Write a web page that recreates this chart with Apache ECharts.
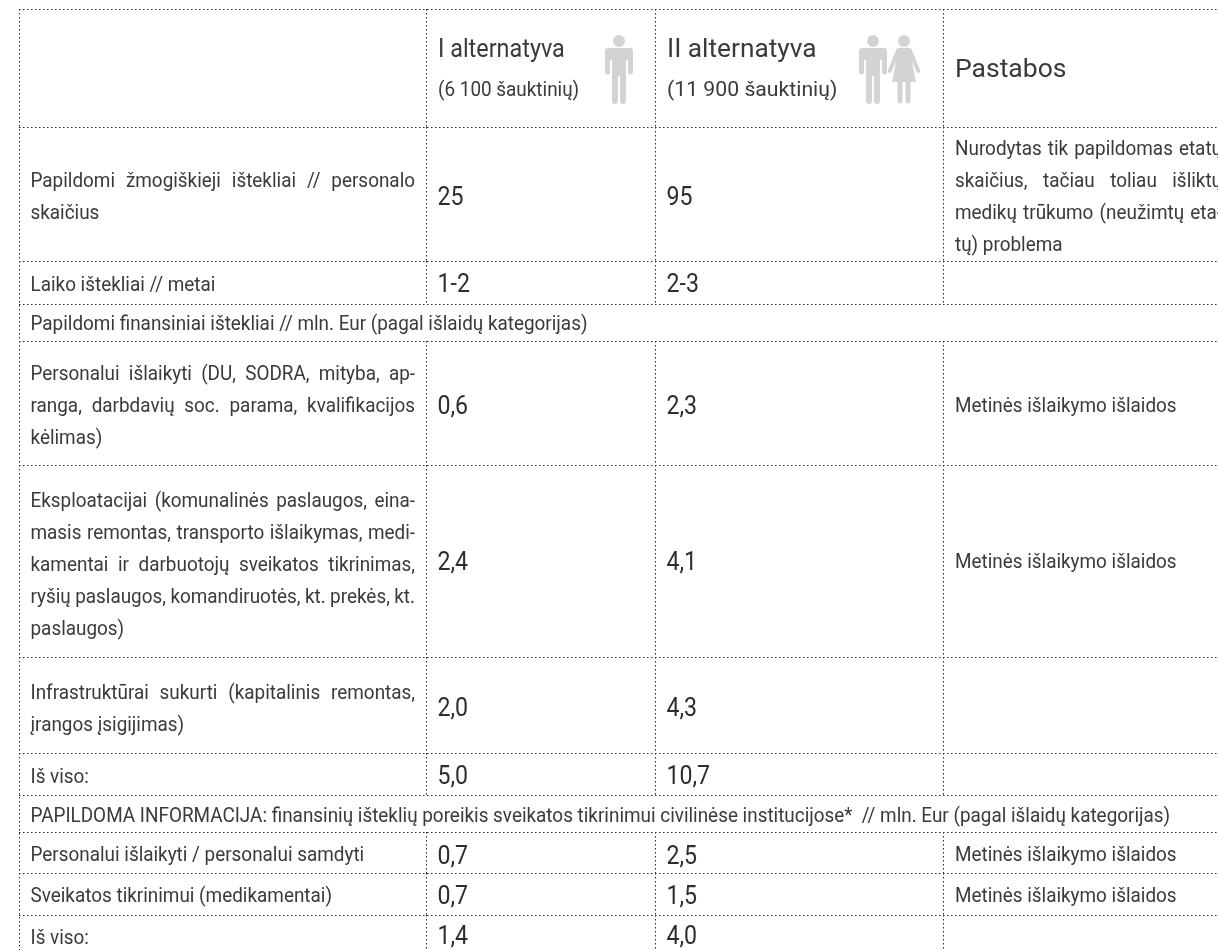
<!DOCTYPE html>
<html>
<head>
    <meta charset="utf-8">
    <title>Alternatyvos</title>
    <script src="https://cdn.jsdelivr.net/npm/echarts@6/dist/echarts.min.js"></script>
    <style>html,body{margin:0;padding:0;background:#fff}</style>
</head>
<body>
    <div id="main" style="width:1218px;height:950px;"></div>
    <script type="text/javascript">
        // table content, rows from top to bottom
        var rowLabels = [
            [],
            ['Papildomi žmogiškieji ištekliai // personalo', 'skaičius'],
            ['Laiko ištekliai // metai'],
            ['Papildomi finansiniai ištekliai // mln. Eur (pagal išlaidų kategorijas)'],
            ['Personalui išlaikyti (DU, SODRA, mityba, ap-', 'ranga, darbdavių soc. parama, kvalifikacijos', 'kėlimas)'],
            ['Eksploatacijai (komunalinės paslaugos, eina-', 'masis remontas, transporto išlaikymas, medi-', 'kamentai ir darbuotojų sveikatos tikrinimas,', 'ryšių paslaugos, komandiruotės, kt. prekės, kt.', 'paslaugos)'],
            ['Infrastruktūrai sukurti (kapitalinis remontas,', 'įrangos įsigijimas)'],
            ['Iš viso:'],
            ['PAPILDOMA INFORMACIJA: finansinių išteklių poreikis sveikatos tikrinimui civilinėse institucijose*  // mln. Eur (pagal išlaidų kategorijas)'],
            ['Personalui išlaikyti / personalui samdyti'],
            ['Sveikatos tikrinimui (medikamentai)'],
            ['Iš viso:']
        ];
        var alternative1 = [null, '25', '1-2', null, '0,6', '2,4', '2,0', '5,0', null, '0,7', '0,7', '1,4'];
        var alternative2 = [null, '95', '2-3', null, '2,3', '4,1', '4,3', '10,7', null, '2,5', '1,5', '4,0'];
        var yearlyNote = 'Metinės išlaikymo išlaidos';
        var notes = [
            [],
            ['Nurodytas tik papildomas etatų', 'skaičius, tačiau toliau išliktų', 'medikų trūkumo (neužimtų eta-', 'tų) problema'],
            [], [],
            [yearlyNote],
            [yearlyNote],
            [], [], [],
            [yearlyNote],
            [yearlyNote],
            []
        ];
        var headerNames = ['I alternatyva', 'II alternatyva'];
        var headerSubs = ['(6 100 šauktinių)', '(11 900 šauktinių)'];
        var notesTitle = 'Pastabos';

        // layout of the table, in pixels of the page
        var colEdges = [19.5, 426.5, 655.5, 943.5, 1230];
        var rowEdges = [9.5, 127.5, 261.5, 304.5, 341.5, 465.5, 657.5, 753.5, 795.5, 832.5, 873.5, 915.5, 950];
        var spanRows = [3, 8];
        var textLeft = [30.5, 438, 667, 955];
        var textRight = [415, 0, 0, 1222];
        var lineGap = 32;
        // text is not quite centred in the rows of the original
        var labelShift = [0, 3.5, 2.5, 1.5, 3.5, 4.5, 4.5, 3, 2.5, 2.5, 2.5, 6.5];
        var noteShift = [0, 3.5, 0, 0, 3.5, 1.5, 0, 0, 0, 2.5, 2.5, 0];
        var numberShift = [0, 3.5, 2.5, 0, 3.5, 1.5, 3.5, 2.5, 0, 4, 2.5, 5];

        var textColor = '#3a3a3a';
        var numberColor = '#2d2d2d';
        var iconColor = '#d1d3d4';
        var bodyFont = '20px Roboto';
        var narrow = 0.945;
        var headerScale = [0.9, 1.01];

        var manPath = 'M3,13H25Q28,13 28,16V37A2.5,2.5 0 0 1 23,37V25H21V66A3,3 0 0 1 15,66V41H13V66A3,3 0 0 1 7,66V25H5V37A2.5,2.5 0 0 1 0,37V16Q0,13 3,13ZM20,6A6,6 0 1 1 8,6A6,6 0 1 1 20,6Z';
        var womanPath = 'M11,13H21Q23,13 24,15L32,35A2,2 0 0 1 28.5,37L24,26L28,47H22.5V66A2.5,2.5 0 0 1 17.5,66V47H14.5V66A2.5,2.5 0 0 1 9.5,66V47H4L8,26L3.5,37A2,2 0 0 1 0,35L8,15Q9,13 11,13ZM22,6A6,6 0 1 1 10,6A6,6 0 1 1 22,6Z';

        var measure = document.createElement('canvas').getContext('2d');
        function widthOf(text, font, sx) {
            measure.font = font;
            return measure.measureText(text).width * sx;
        }

        // one record for every text run on the page
        var runs = [];
        function addRun(text, x, y, font, color, sx) {
            runs.push({text: text, x: x, y: y, font: font, color: color, sx: sx});
        }
        // paragraph centred on the row, justified except for its last line
        function addParagraph(lines, col, row, right, shift) {
            var mid = (rowEdges[row] + rowEdges[row + 1]) / 2 + shift;
            lines.forEach(function (line, i) {
                var y = mid + (i - (lines.length - 1) / 2) * lineGap;
                var words = line.split(' ');
                if (i === lines.length - 1 || words.length < 2) {
                    addRun(line, textLeft[col], y, bodyFont, textColor, narrow);
                    return;
                }
                var used = 0;
                words.forEach(function (w) { used += widthOf(w, bodyFont, narrow); });
                var gap = (right - textLeft[col] - used) / (words.length - 1);
                var x = textLeft[col];
                words.forEach(function (w) {
                    addRun(w, x, y, bodyFont, textColor, narrow);
                    x += widthOf(w, bodyFont, narrow) + gap;
                });
            });
        }

        rowLabels.forEach(function (lines, i) {
            if (lines.length) addParagraph(lines, 0, i, textRight[0], labelShift[i]);
        });
        notes.forEach(function (lines, i) {
            if (lines.length) addParagraph(lines, 3, i, textRight[3], noteShift[i]);
        });
        [alternative1, alternative2].forEach(function (values, c) {
            values.forEach(function (v, i) {
                if (v === null) return;
                var mid = (rowEdges[i] + rowEdges[i + 1]) / 2;
                addRun(v, textLeft[c + 1] - 0.5, mid + numberShift[i], '26px Roboto', numberColor, 0.89);
            });
            addRun(headerNames[c], textLeft[c + 1], 50, '26px Roboto', textColor, headerScale[c]);
            addRun(headerSubs[c], textLeft[c + 1], 91, '21px Roboto', textColor, headerScale[c]);
        });
        addRun(notesTitle, textLeft[3], 70, '26.5px Roboto', textColor, 1);

        // dotted rules: [x1, y1, x2, y2], dots start on whole pixels
        var rules = [];
        rowEdges.slice(0, 12).forEach(function (y) {
            rules.push([colEdges[0] - 0.5, y, colEdges[4], y]);
        });
        rules.push([colEdges[0], rowEdges[0] - 0.5, colEdges[0], rowEdges[12]]);
        [1, 2, 3].forEach(function (c) {
            rowEdges.slice(0, 12).forEach(function (y, r) {
                if (spanRows.indexOf(r) >= 0) return;
                rules.push([colEdges[c], y - 0.5, colEdges[c], rowEdges[r + 1]]);
            });
        });

        var icons = [[manPath, 605, 35], [manPath, 859, 35], [womanPath, 888, 35]];

        var myChart = echarts.init(document.getElementById('main'));
        var option = {
            animation: false,
            grid: {left: 0, right: 0, top: 0, bottom: 0},
            xAxis: {type: 'value', min: 0, max: 1218, show: false},
            yAxis: {type: 'value', min: 0, max: 950, inverse: true, show: false},
            series: [{
                type: 'custom',
                silent: true,
                clip: false,
                data: rules,
                renderItem: function (params, api) {
                    var a = api.coord([api.value(0), api.value(1)]);
                    var b = api.coord([api.value(2), api.value(3)]);
                    return {
                        type: 'line',
                        shape: {x1: a[0], y1: a[1], x2: b[0], y2: b[1]},
                        style: {stroke: '#2a2a2a', lineWidth: 1, lineDash: [1.5, 2.5]}
                    };
                }
            }, {
                type: 'custom',
                silent: true,
                data: icons.map(function (d) { return [d[1], d[2]]; }),
                renderItem: function (params, api) {
                    var p = api.coord([api.value(0), api.value(1)]);
                    return {
                        type: 'path',
                        x: p[0],
                        y: p[1],
                        shape: {pathData: icons[params.dataIndex][0]},
                        style: {fill: iconColor}
                    };
                }
            }, {
                type: 'custom',
                silent: true,
                data: runs.map(function (r) { return [r.x, r.y]; }),
                renderItem: function (params, api) {
                    var r = runs[params.dataIndex];
                    var p = api.coord([api.value(0), api.value(1)]);
                    return {
                        type: 'text',
                        x: p[0],
                        y: p[1],
                        scaleX: r.sx,
                        style: {
                            text: r.text,
                            font: r.font,
                            fill: r.color,
                            align: 'left',
                            verticalAlign: 'middle'
                        }
                    };
                }
            }]
        };
        myChart.setOption(option);
    </script>
</body>
</html>
